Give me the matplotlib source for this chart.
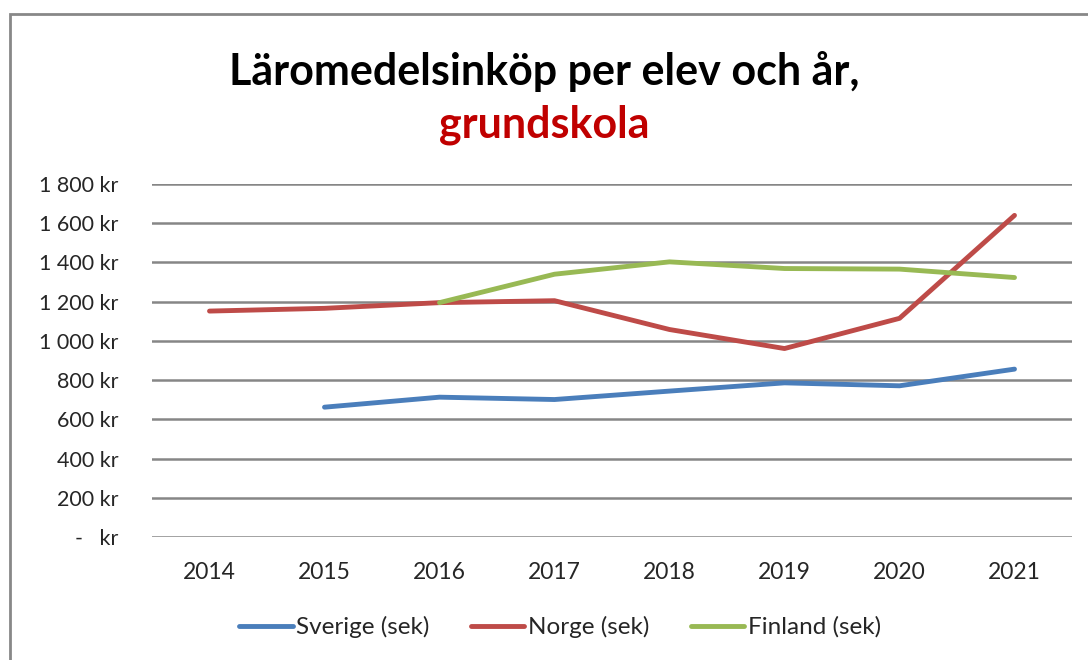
import matplotlib.pyplot as plt
from matplotlib.patches import Rectangle
from matplotlib.ticker import FuncFormatter

years = ['2014', '2015', '2016', '2017', '2018', '2019', '2020', '2021']
sverige = [None, 662, 713, 701, 744, 786, 771, 856]
norge = [1152, 1166, 1195, 1205, 1058, 961, 1115, 1640]
finland = [None, None, 1195, 1340, 1403, 1369, 1366, 1323]

plt.rcParams['font.family'] = ['Lato', 'DejaVu Sans']

W, H = 1088, 660
fig = plt.figure(figsize=(W / 100, H / 100), dpi=100)

# outer chart frame
fig.patches.append(Rectangle((10 / W, -0.1), 1.2, (H - 14) / H + 0.1,
                             transform=fig.transFigure, fill=False,
                             edgecolor='#888888', linewidth=2))

ax = fig.add_axes([152 / W, 1 - 537 / H, (1072 - 152) / W, (537 - 184) / H])

def pts(vals):
    xs = [i for i, v in enumerate(vals) if v is not None]
    return xs, [vals[i] for i in xs]

lw = 3.5
ax.plot(*pts(sverige), color='#4A7EBB', lw=lw, solid_capstyle='round', label='Sverige (sek)')
ax.plot(*pts(norge), color='#BE4B48', lw=lw, solid_capstyle='round', label='Norge (sek)')
ax.plot(*pts(finland), color='#98B954', lw=lw, solid_capstyle='round', label='Finland (sek)')

ax.set_xlim(-0.5, 7.5)
ax.set_ylim(0, 1800)
ax.set_yticks(range(0, 1801, 200))
ax.set_xticks(range(len(years)))
ax.set_xticklabels(years)

def kr(v, pos):
    if v == 0:
        return '-   kr'
    return '{:,}'.format(int(v)).replace(',', ' ') + ' kr'

ax.yaxis.set_major_formatter(FuncFormatter(kr))
ax.grid(axis='y', color='#868686', linewidth=1.8)
ax.set_axisbelow(True)
for s in ax.spines.values():
    s.set_visible(False)
ax.tick_params(axis='y', length=0, pad=24, labelsize=15.5, labelcolor='#262626')
ax.tick_params(axis='x', length=0, pad=18, labelsize=16.5, labelcolor='#262626')

fig.text(0.5, 1 - 72 / H, 'Läromedelsinköp per elev och år,', ha='center', va='center',
         fontsize=31, fontweight='bold', color='black')
fig.text(0.5, 1 - 125 / H, 'grundskola', ha='center', va='center',
         fontsize=31, fontweight='bold', color='#C00000')

fig.legend(loc='center', bbox_to_anchor=(560 / W, 1 - 627 / H), ncol=3, frameon=False,
           fontsize=17.5, handlelength=2.2, handletextpad=0.15, columnspacing=1.7,
           labelcolor='#262626')

fig.savefig('out.png', dpi=100)
